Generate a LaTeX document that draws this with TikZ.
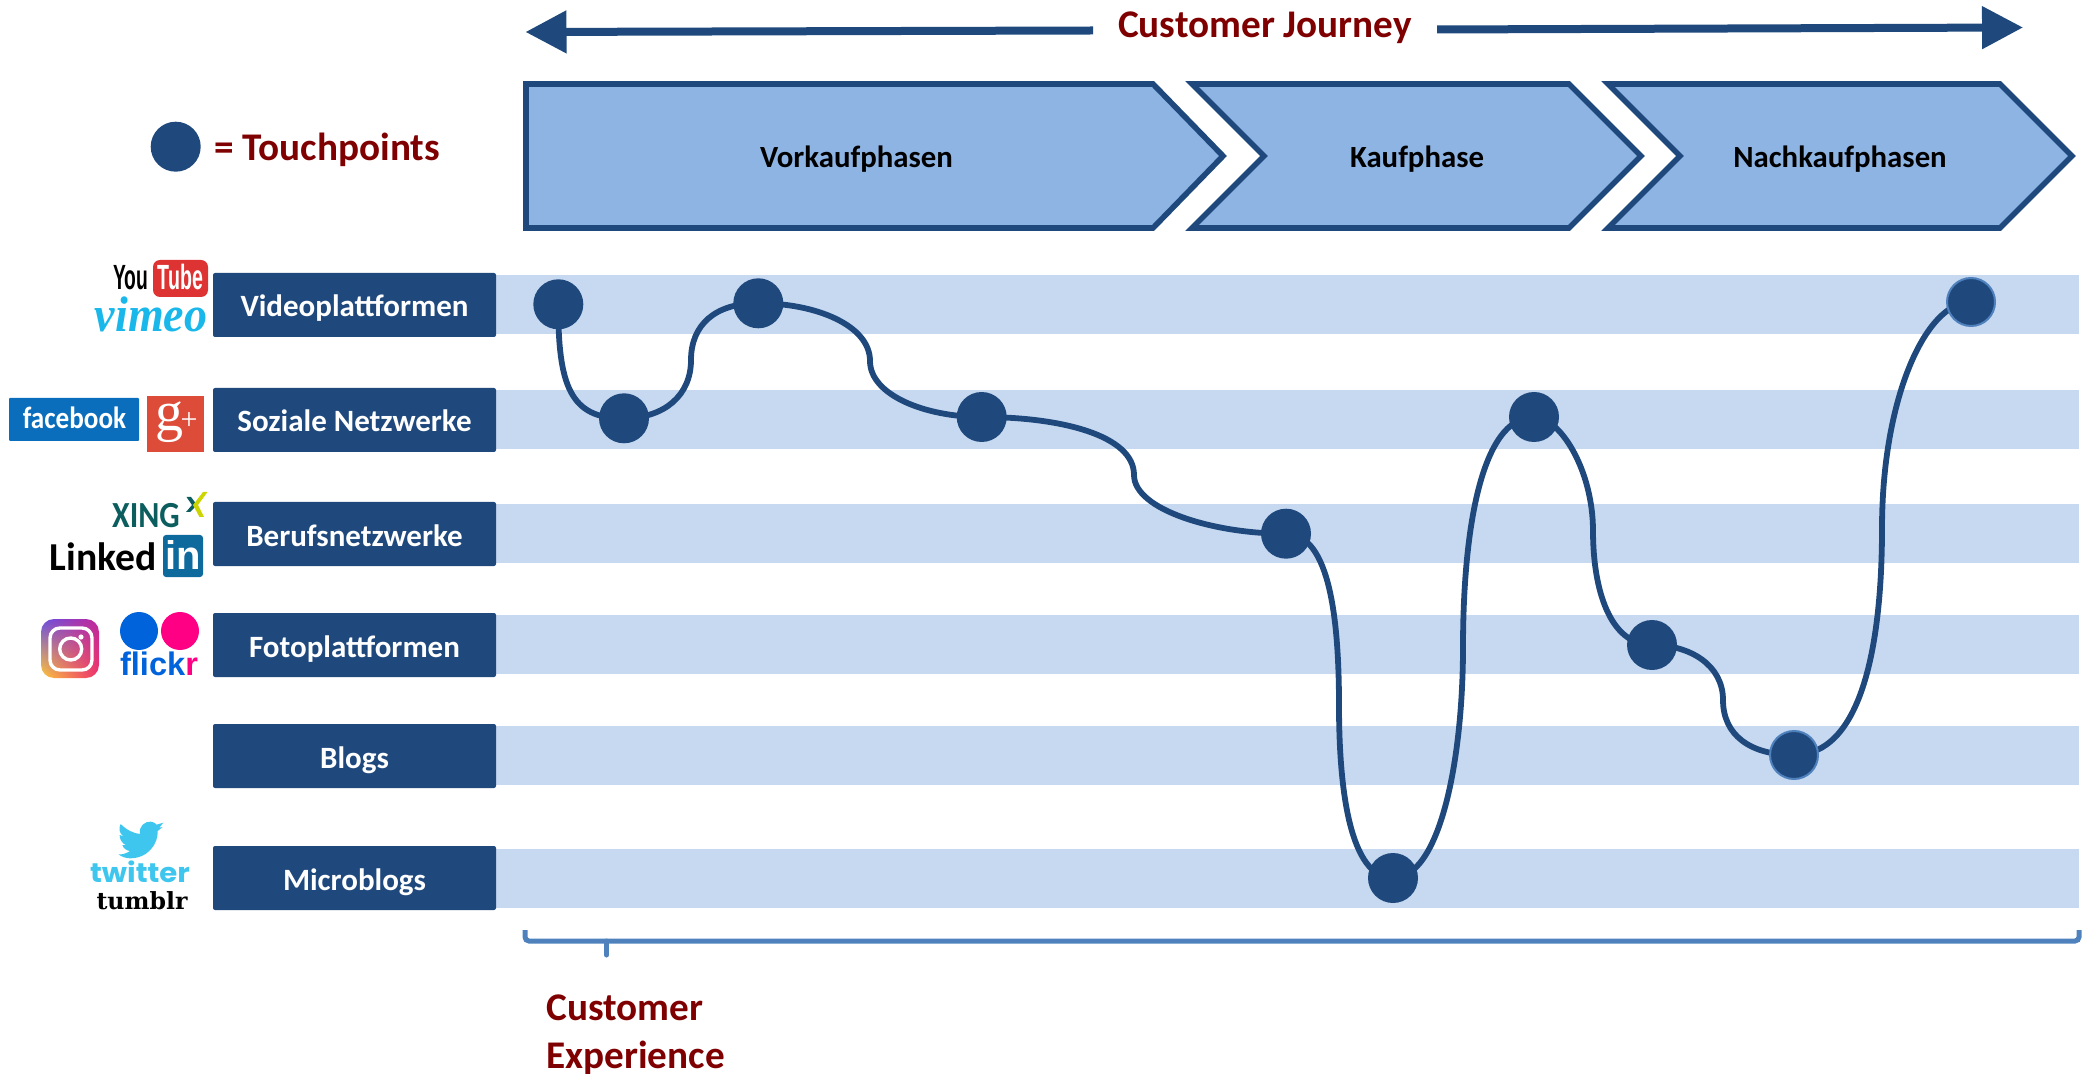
\documentclass[tikz,border=0pt]{standalone}
\usepackage{fontspec}
\usepackage{graphicx}
\usetikzlibrary{arrows.meta,shadings,backgrounds}
\setmainfont{Carlito}
\newfontfamily\lsans{Liberation Sans}
\newfontfamily\lserif{Liberation Serif}
\newfontfamily\djserif{DejaVu Serif}
\newfontfamily\pop{Poppins}
\definecolor{navy}{HTML}{1F497D}
\definecolor{bandc}{HTML}{C6D9F1}
\definecolor{chev}{HTML}{8EB4E3}
\definecolor{darkr}{HTML}{7F0000}
\definecolor{steel}{HTML}{4F81BD}
\definecolor{ytred}{HTML}{DD3333}
\definecolor{vim}{HTML}{1AB7EA}
\definecolor{fbb}{HTML}{0A6EBD}
\definecolor{gp}{HTML}{DD4B39}
\definecolor{xg}{HTML}{0B5D5E}
\definecolor{xy}{HTML}{CDD500}
\definecolor{lib}{HTML}{0E6A9C}
\definecolor{flb}{HTML}{0063DC}
\definecolor{flp}{HTML}{FF0084}
\definecolor{twb}{HTML}{3FC6EE}
\definecolor{igul}{HTML}{6A50E0}
\definecolor{igur}{HTML}{C0289C}
\definecolor{igll}{HTML}{FFC838}
\definecolor{iglr}{HTML}{F0306A}
\pgfdeclarelayer{bands}
\pgfdeclarelayer{lines}
\pgfsetlayers{bands,lines,main}
\tikzset{
  band/.style={fill=bandc,draw=none},
  catbox/.style={fill=navy,draw=none,rounded corners=1pt},
  cat/.style={anchor=base,text=white,font=\bfseries\fontsize{15.5}{18}\selectfont,inner sep=0pt},
  tp/.style={circle,fill=navy,draw=none,minimum size=25pt,inner sep=0pt},
  curve/.style={draw=navy,line width=2.9pt},
  chevron/.style={draw=navy,fill=chev,line width=2.8pt,miter limit=10},
  phase/.style={anchor=base,text=black,font=\bfseries\fontsize{15.4}{18}\selectfont,inner sep=0pt},
  red/.style={text=darkr,font=\bfseries\fontsize{19.6}{22}\selectfont,inner sep=0pt},
  bigarrow/.style={draw=navy,line width=4pt,-{Triangle[length=20.5pt,width=20.5pt]}},
  logo/.style={inner sep=0pt,anchor=base},
}
\begin{document}
\begin{tikzpicture}[x=0.5pt,y=-0.5pt]
\useasboundingbox (0,0) rectangle (2087,1074);
% bands
\begin{pgfonlayer}{bands}
\foreach \yt in {275,390,504,615,726,849}{
  \fill[band] (496,\yt) rectangle (2079,\yt+59);
}
\end{pgfonlayer}
% category boxes
\foreach \nm/\yc/\tx in {a/305/Videoplattformen,b/420/Soziale Netzwerke,c/534/Berufsnetzwerke,d/645/Fotoplattformen,e/756/Blogs,f/878/Microblogs}{
  \fill[catbox] (213,\yc-32) rectangle (496,\yc+32);
  \node[cat] (\nm) at (354.5,\yc+12) {\tx};
}
% top arrows
\node[red,anchor=base] (cj) at (1265,38) {Customer Journey};
\coordinate (la) at (1093,30.5);
\coordinate (lb) at (525.5,32);
\coordinate (ra) at (1437,29.5);
\coordinate (rb) at (2023,27.5);
\draw[bigarrow] (la) -- (lb);
\draw[bigarrow] (ra) -- (rb);
% chevrons
\draw[chevron] (526,84) -- (1153,84) -- (1223,156) -- (1153,228) -- (526,228) -- cycle;
\draw[chevron] (1192,84) -- (1569,84) -- (1641,156) -- (1569,228) -- (1192,228) -- (1264,156) -- cycle;
\draw[chevron] (1608,84) -- (2000,84) -- (2072,156) -- (2000,228) -- (1608,228) -- (1680,156) -- cycle;
\node[phase] (p1) at (856.5,168) {Vorkaufphasen};
\node[phase] (p2) at (1417,168) {Kaufphase};
\node[phase] (p3) at (1840,168) {Nachkaufphasen};
% legend
\node[tp] (leg) at (175.7,146.7) {};
\node[red,anchor=base west] (legt) at (214,160.5) {= Touchpoints};
% touchpoints
\node[tp] (n1) at (558.3,304.3) {};
\node[tp] (n2) at (624,418.3) {};
\node[tp] (n3) at (758.3,303.3) {};
\node[tp] (n4) at (981.7,417) {};
\node[tp] (n5) at (1286,533.7) {};
\node[tp] (n6) at (1393,878) {};
\node[tp] (n7) at (1534,417) {};
\node[tp] (n8) at (1652,645) {};
\node[tp,draw=steel,line width=1pt,minimum size=24pt] (n9) at (1794,755) {};
\node[tp,draw=steel,line width=1pt,minimum size=24pt] (n10) at (1971,302) {};
\coordinate (m2) at (691,360);
\coordinate (m3) at (870,361);
\coordinate (m4) at (1134,475);
\coordinate (m5) at (1339,706);
\coordinate (m6) at (1463,647);
\coordinate (m7) at (1593,531);
\coordinate (m8) at (1723,700);
\coordinate (m9) at (1882,528);
\begin{pgfonlayer}{lines}
\draw[curve] (n1.center) .. controls (558,385) and (570,419) .. (n2.center);
\draw[curve] (n2.center) .. controls (665,418) and (691,395) .. (m2) .. controls (691,325) and (715,303) .. (n3.center);
\draw[curve] (n3.center) .. controls (815,303) and (870,325) .. (m3) .. controls (870,395) and (925,417) .. (n4.center);
\draw[curve] (n4.center) .. controls (1060,417) and (1134,435) .. (m4) .. controls (1134,510) and (1215,534) .. (n5.center);
\draw[curve] (n5.center) .. controls (1330,534) and (1339,620) .. (m5) .. controls (1339,790) and (1350,878) .. (n6.center);
\draw[curve] (n6.center) .. controls (1440,878) and (1463,760) .. (m6) .. controls (1463,535) and (1480,417) .. (n7.center);
\draw[curve] (n7.center) .. controls (1560,417) and (1593,470) .. (m7) .. controls (1593,590) and (1610,645) .. (n8.center);
\draw[curve] (n8.center) .. controls (1690,645) and (1723,665) .. (m8) .. controls (1723,735) and (1750,755) .. (n9.center);
\draw[curve] (n9.center) .. controls (1860,755) and (1882,650) .. (m9) .. controls (1882,400) and (1925,302) .. (n10.center);
\end{pgfonlayer}
% bracket
\coordinate (bl) at (525,930);
\coordinate (bll) at (525,941);
\coordinate (brr) at (2079,941);
\coordinate (br) at (2079,930);
\coordinate (bt) at (606.5,941);
\coordinate (bb) at (606.5,955);
\draw[steel,line width=2.5pt,rounded corners=2pt] (bl) -- (bll) -- (brr) -- (br);
\draw[steel,line width=2.5pt,line cap=round] (bt) -- (bb);
\node[red,anchor=base west] (ce1) at (546,1020) {Customer};
\node[red,anchor=base west] (ce2) at (546,1068) {Experience};
% YouTube
\node[logo,font=\lsans\bfseries\fontsize{17.5}{18}\selectfont] (yt) at (131,290) {\scalebox{0.55}[1]{You}};
\fill[ytred,rounded corners=3.5pt] (153,260) rectangle (208,297);
\node[logo,text=white,font=\lsans\bfseries\fontsize{17.5}{18}\selectfont] (tube) at (180.5,290) {\scalebox{0.56}[1]{Tube}};
% vimeo
\node[logo,text=vim,font=\lserif\bfseries\itshape\fontsize{25}{26}\selectfont] (vm) at (151,332) {\scalebox{0.92}[1]{vimeo}};
% facebook
\fill[fbb,rounded corners=0.5pt] (9,398) rectangle (139,441);
\node[logo,text=white,font=\bfseries\fontsize{14}{16}\selectfont] (fb) at (74.5,429) {\scalebox{0.97}[1.1]{facebook}};
% google plus
\fill[gp] (147,396) rectangle (204,452);
\node[logo,text=white,font=\lserif\fontsize{28}{28}\selectfont] (gg) at (169,431) {g};
\node[logo,text=white,font=\lserif\fontsize{15}{15}\selectfont] (gpl) at (189,430) {+};
% xing
\node[logo,text=xg,font=\bfseries\fontsize{16}{18}\selectfont] (xi) at (146,528) {\scalebox{1}[1.15]{XING}};
\fill[xg] (186.5,497) -- (191,497) -- (197,505) -- (190,512) -- (186,512) -- (192,505) -- cycle;
\fill[xy] (203,492) -- (207.5,492) -- (198,505) -- (204,517) -- (199.5,517) -- (193,505) -- cycle;
% linkedin
\node[logo,font=\bfseries\fontsize{19.8}{21}\selectfont] (li) at (103,570) {Linked};
\fill[lib,rounded corners=1.5pt] (163,535) rectangle (203,577);
\node[logo,text=white,font=\lsans\bfseries\fontsize{20}{21}\selectfont] (lin) at (183,569.5) {in};
% instagram
\path[rounded corners=6.5pt,upper left=igul,upper right=igur,lower left=igll,lower right=iglr,shade] (41,619) rectangle (99,678);
\draw[white,line width=1.7pt,rounded corners=5pt] (50,628) rectangle (92,670);
\draw[white,line width=1.7pt] (70.7,649) circle[radius=5.5pt];
\fill[white] (81,637) circle[radius=1.3pt];
% flickr
\fill[flb] (139,631) circle[radius=9.5pt];
\fill[flp] (180,631) circle[radius=9.5pt];
\node[logo,font=\lsans\bfseries\fontsize{16.3}{18}\selectfont] (fl) at (159,675) {\textcolor{flb}{flick}\textcolor{flp}{r}};
% twitter bird
\begin{scope}[xshift=42.5pt,yshift=-407.5pt,x=0.16667pt,y=-0.16667pt]
\fill[twb] (107,27) .. controls (125,45) and (145,55) .. (165,57)
  .. controls (160,35) and (180,18) .. (197,20)
  .. controls (205,20) and (212,25) .. (215,29)
  -- (235,23) -- (223,38) -- (233,36) -- (218,48)
  .. controls (220,85) and (190,130) .. (135,130)
  .. controls (122,130) and (110,125) .. (100,118)
  .. controls (112,119) and (125,115) .. (135,108)
  .. controls (125,107) and (115,100) .. (112,90)
  -- (122,90)
  .. controls (112,85) and (103,73) .. (104,60)
  -- (115,64)
  .. controls (103,55) and (100,40) .. (107,27) -- cycle;
\end{scope}
\node[logo,text=twb,font=\pop\bfseries\fontsize{13.5}{15}\selectfont] (tw) at (140,882) {\scalebox{1.08}[1]{twitter}};
\node[logo,text=black,font=\djserif\bfseries\fontsize{11.8}{13}\selectfont] (tb) at (142,909) {tumblr};
\end{tikzpicture}
\end{document}
